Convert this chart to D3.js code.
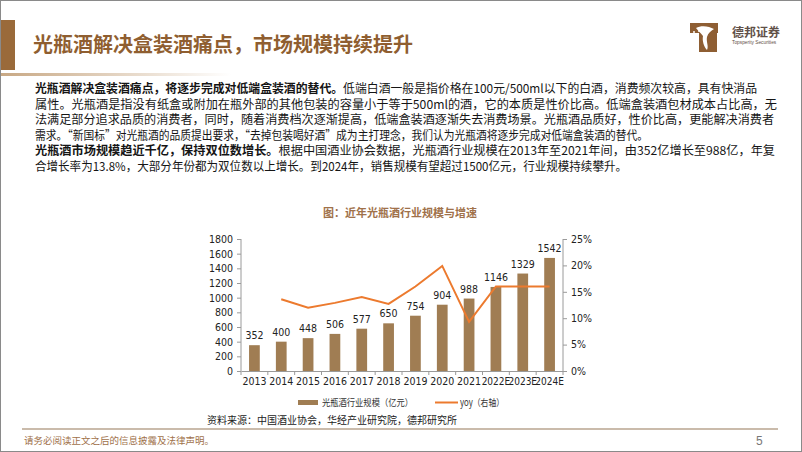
<!DOCTYPE html>
<html><head><meta charset="utf-8">
<script src="https://cdn.jsdelivr.net/npm/d3@7/dist/d3.min.js"></script>
<style>
html,body{margin:0;padding:0;background:#fff;}
svg{display:block;}
</style></head>
<body>
<svg id="c" width="802" height="452"></svg>
<script>
const years = ["2013","2014","2015","2016","2017","2018","2019","2020","2021","2022E","2023E","2024E"];
const marketSize = [352,400,448,506,577,650,754,904,988,1146,1329,1542];
const yoy = [null,0.136,0.120,0.129,0.140,0.127,0.160,0.199,0.093,0.160,0.160,0.160];
const leftTicks = [0,200,400,600,800,1000,1200,1400,1600,1800];
const rightTicks = [0,0.05,0.10,0.15,0.20,0.25];

const pageTitle = "光瓶酒解决盒装酒痛点，市场规模持续提升";
const chartTitle = "图：近年光瓶酒行业规模与增速";
const sourceText = "资料来源：中国酒业协会，华经产业研究院，德邦研究所";
const footerText = "请务必阅读正文之后的信息披露及法律声明。";
const legendBar = "光瓶酒行业规模（亿元）";
const legendLine = "yoy（右轴）";
const bodyLines = [
  [["光瓶酒解决盒装酒痛点，将逐步完成对低端盒装酒的替代。",true],["低端白酒一般是指价格在100元/500ml以下的白酒，消费频次较高，具有快消品",false]],
  [["属性。光瓶酒是指没有纸盒或附加在瓶外部的其他包装的容量小于等于500ml的酒，它的本质是性价比高。低端盒装酒包材成本占比高，无",false]],
  [["法满足部分追求品质的消费者，同时，随着消费档次逐渐提高，低端盒装酒逐渐失去消费场景。光瓶酒品质好，性价比高，更能解决消费者",false]],
  [["需求。“新国标”对光瓶酒的品质提出要求，“去掉包装喝好酒”成为主打理念，我们认为光瓶酒将逐步完成对低端盒装酒的替代。",false]],
  [["光瓶酒市场规模趋近千亿，保持双位数增长。",true],["根据中国酒业协会数据，光瓶酒行业规模在2013年至2021年间，由352亿增长至988亿，年复",false]],
  [["合增长率为13.8%，大部分年份都为双位数以上增长。到2024年，销售规模有望超过1500亿元，行业规模持续攀升。",false]]
];
const bodyLineEnds = [757,777,774,648,775,627];

const svg = d3.select("#c");
const brown = "#8F5E30";
const cjk = "'Noto Sans CJK SC','Noto Sans',sans-serif";
const num = "'Liberation Sans',Arial,sans-serif";
const narrow = "'Liberation Sans Narrow','Arial Narrow','DejaVu Sans Condensed',sans-serif";

// frame
svg.append("rect").attr("x",0.5).attr("y",0.5).attr("width",801).attr("height",451)
  .attr("fill","#fff").attr("stroke","#8a8a8a").attr("stroke-width",1);

// header bar
svg.append("rect").attr("x",1).attr("y",20).attr("width",14).attr("height",50).attr("fill","#9A6A3A");
svg.append("text").attr("x",33).attr("y",52).attr("font-family",cjk).attr("font-weight","bold")
  .attr("font-size",20).attr("fill",brown).text(pageTitle);

// gradient line under header
const defs = svg.append("defs");
const g1 = defs.append("linearGradient").attr("id","hg");
g1.append("stop").attr("offset","0").attr("stop-color","#c8a884");
g1.append("stop").attr("offset","1").attr("stop-color","#c8a884").attr("stop-opacity",0);
svg.append("rect").attr("x",1).attr("y",73).attr("width",230).attr("height",3).attr("fill","url(#hg)");

// logo
const logo = svg.append("g").attr("transform","translate(690,23)");
logo.append("path").attr("d","M0,0 H28 V10 H27 V29 H9 V10 H0 Z").attr("fill","#8E5E33");
logo.append("path").attr("d","M6,5 C11,2 19,3 24,6 C21,8 18,10 17,14 C16,19 19,23 17,27 C14,24 12,18 13,13 C11,10 8,8 6,5 Z").attr("fill","#fff");
[[4,9],[7,12],[3,13],[9,8]].forEach(p=>logo.append("circle").attr("cx",p[0]).attr("cy",p[1]).attr("r",1).attr("fill","#fff"));
svg.append("text").attr("x",732).attr("y",37).attr("font-family",cjk).attr("font-weight","bold")
  .attr("font-size",12).attr("fill","#5f5048").text("德邦证券");
svg.append("text").attr("x",732).attr("y",44).attr("font-family",num)
  .attr("font-size",4.8).attr("fill","#5f5048").text("Topsperity Securities");

// body text
bodyLines.forEach((parts,i)=>{
  const t = svg.append("text").attr("x",35).attr("y",93+i*15.6)
    .attr("font-family",cjk).attr("font-size",12).attr("fill","#151515")
    .attr("textLength",bodyLineEnds[i]-35).attr("lengthAdjust","spacingAndGlyphs");
  parts.forEach(p=>t.append("tspan").attr("font-weight",p[1]?"bold":"normal").text(p[0]));
});

// chart title
svg.append("text").attr("x",400).attr("y",217).attr("text-anchor","middle")
  .attr("font-family",cjk).attr("font-weight","bold").attr("font-size",11).attr("fill","#A0714A").text(chartTitle);

// scales
const x = d3.scaleBand().domain(years).range([241,563]).paddingInner(0.6).paddingOuter(0.3);
const yL = d3.scaleLinear().domain([0,1800]).range([371,239]);
const yR = d3.scaleLinear().domain([0,0.25]).range([371,239]);
const axisColor = "#9a9a9a";

// bars
svg.append("g").selectAll("rect").data(years).join("rect")
  .attr("x",d=>x(d)).attr("width",x.bandwidth())
  .attr("y",(d,i)=>yL(marketSize[i])).attr("height",(d,i)=>yL(0)-yL(marketSize[i]))
  .attr("fill","#A07D53");

// bar labels
svg.append("g").selectAll("text").data(years).join("text")
  .attr("x",d=>x(d)+x.bandwidth()/2).attr("y",(d,i)=>yL(marketSize[i])-6)
  .attr("text-anchor","middle").attr("font-family",narrow).attr("font-size",10.5).attr("fill","#222")
  .text((d,i)=>marketSize[i]);

// line
const lineGen = d3.line().defined(d=>d[1]!=null)
  .x(d=>x(d[0])+x.bandwidth()/2).y(d=>yR(d[1]));
svg.append("path").datum(years.map((d,i)=>[d,yoy[i]])).attr("d",lineGen)
  .attr("fill","none").attr("stroke","#EC7A2E").attr("stroke-width",2);

// left axis
const gl = svg.append("g").attr("transform","translate(241,0)")
  .call(d3.axisLeft(yL).tickValues(leftTicks).tickSize(4).tickPadding(4).tickFormat(d3.format("d")));
// right axis
const gr = svg.append("g").attr("transform","translate(563,0)")
  .call(d3.axisRight(yR).tickValues(rightTicks).tickSize(4).tickPadding(4).tickFormat(d3.format(".0%")));
// x axis
const gx = svg.append("g").attr("transform","translate(0,371)")
  .call(d3.axisBottom(x).tickSize(0).tickPadding(7));
const step = x.step();
gx.selectAll(".bnd").data(d3.range(years.length+1)).join("line").attr("class","bnd")
  .attr("x1",i=>241+i*step).attr("x2",i=>241+i*step).attr("y1",0).attr("y2",4).attr("stroke",axisColor);
[gl,gr,gx].forEach(g=>{
  g.select(".domain").attr("stroke",axisColor);
  g.selectAll(".tick line").attr("stroke",axisColor);
  g.selectAll("text").attr("font-family",narrow).attr("font-size",10.5).attr("fill","#222");
});
gx.selectAll(".tick text").filter(d=>d.length>4).attr("font-size",10);
gl.select(".domain").attr("d","M0,239V371");
gr.select(".domain").attr("d","M0,239V371");

// legend
svg.append("rect").attr("x",298).attr("y",400).attr("width",20).attr("height",5).attr("fill","#A07D53");
svg.append("text").attr("x",322).attr("y",406).attr("font-family",cjk).attr("font-size",9.5)
  .attr("fill","#333").attr("textLength",91).attr("lengthAdjust","spacingAndGlyphs").text(legendBar);
svg.append("line").attr("x1",435).attr("x2",458).attr("y1",402.5).attr("y2",402.5)
  .attr("stroke","#EC7A2E").attr("stroke-width",2);
svg.append("text").attr("x",460).attr("y",406).attr("font-family",cjk).attr("font-size",9.5)
  .attr("fill","#333").attr("textLength",44).attr("lengthAdjust","spacingAndGlyphs").text(legendLine);

// source
svg.append("text").attr("x",207).attr("y",424).attr("font-family",cjk).attr("font-size",10)
  .attr("fill","#222").text(sourceText);

// footer separator
svg.append("line").attr("x1",22).attr("x2",778).attr("y1",429).attr("y2",429)
  .attr("stroke","#b9a58f").attr("stroke-width",1.5);
svg.append("text").attr("x",24).attr("y",444).attr("font-family",cjk).attr("font-size",9.5)
  .attr("fill","#A0714A").text(footerText);
svg.append("text").attr("x",756).attr("y",445).attr("font-family",num).attr("font-size",12)
  .attr("fill","#777").text("5");
</script>
</body></html>
